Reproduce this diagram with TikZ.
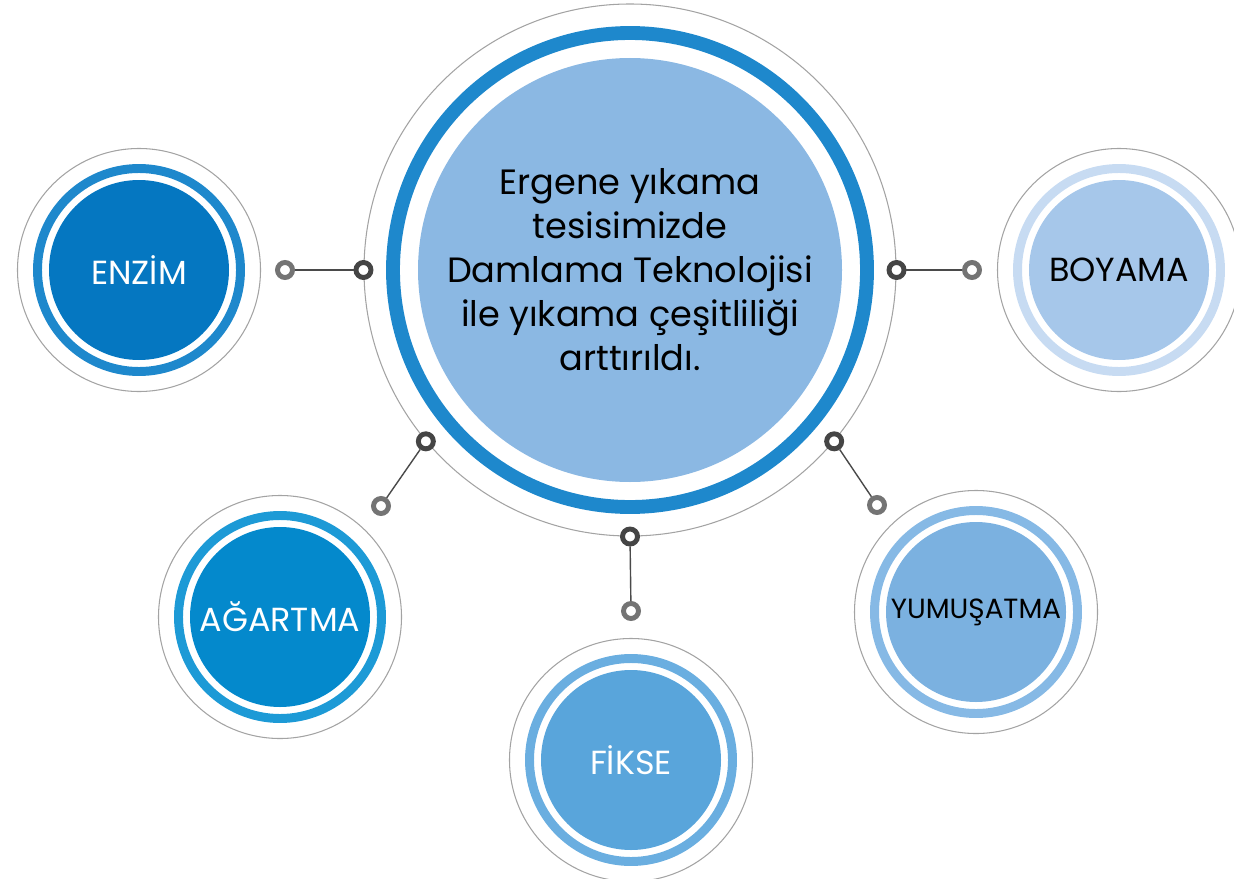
\documentclass[tikz,border=0pt]{standalone}
\usepackage{fontspec}
\setmainfont{Poppins}
\usepackage{xcolor}

\definecolor{rimgray}{HTML}{A3A3A3}
\definecolor{knobdark}{HTML}{454545}
\definecolor{knoblight}{HTML}{747474}
\definecolor{linkgray}{HTML}{4A4A4A}
\definecolor{hubfill}{HTML}{8BB8E3}
\definecolor{hubring}{HTML}{1E88CC}
\definecolor{enzimfill}{HTML}{0577C1}
\definecolor{enzimring}{HTML}{1E88CC}
\definecolor{agartmafill}{HTML}{0489CC}
\definecolor{agartmaring}{HTML}{1D9AD6}
\definecolor{fiksefill}{HTML}{59A5DB}
\definecolor{fikservring}{HTML}{6AAEE0}
\definecolor{yumusatmafill}{HTML}{7BB1E0}
\definecolor{yumusatmaring}{HTML}{86B9E5}
\definecolor{boyamafill}{HTML}{A6C7EA}
\definecolor{boyamaring}{HTML}{C7DBF2}

\tikzset{
  rim/.style={circle, draw=rimgray, line width=0.6pt, inner sep=0pt, minimum size=4.86cm},
  band/.style={circle, draw=#1, line width=5.1pt, inner sep=0pt, minimum size=4.06cm},
  disc/.style={circle, fill=#1, inner sep=0pt, minimum size=3.6cm, font=\fontsize{19}{22}\selectfont},
  knob/.style={circle, draw=#1, fill=white, line width=2.8pt, inner sep=0pt, minimum size=0.3cm},
  link/.style={draw=linkgray, line width=0.8pt},
}

\begin{document}
\begin{tikzpicture}
  \clip (0,0) rectangle (24.68,-17.58);
  % centre
  \node[rim, minimum size=10.64cm] (hubO) at (12.6,-5.4) {};
  \node[band=hubring, line width=7.9pt, minimum size=9.48cm] at (hubO) {};
  \node[disc=hubfill, minimum size=8.48cm, align=center, font=\fontsize{20}{25}\selectfont] (hub) at (hubO)
    {Ergene yıkama\\ tesisimizde\\ Damlama Teknolojisi\\ ile yıkama çeşitliliği\\ arttırıldı.};

  % outer bubbles
  \node[rim] (enzimO) at (2.78,-5.4) {};
  \node[band=enzimring] at (enzimO) {};
  \node[disc=enzimfill, text=white] (enzim) at (enzimO) {ENZİM};

  \node[rim] (boyamaO) at (22.38,-5.4) {};
  \node[band=boyamaring] at (boyamaO) {};
  \node[disc=boyamafill] (boyama) at (boyamaO) {BOYAMA};

  \node[rim] (agartmaO) at (5.6,-12.34) {};
  \node[band=agartmaring] at (agartmaO) {};
  \node[disc=agartmafill, text=white] (agartma) at (agartmaO) {AĞARTMA};

  \node[rim] (fikseO) at (12.62,-15.2) {};
  \node[band=fikservring] at (fikseO) {};
  \node[disc=fiksefill, text=white] (fikse) at (fikseO) {FİKSE};

  \node[rim] (yumusatmaO) at (19.52,-12.24) {};
  \node[band=yumusatmaring] at (yumusatmaO) {};
  \node[disc=yumusatmafill, font=\fontsize{15.8}{18}\selectfont] (yumusatma) at (yumusatmaO) {YUMUŞATMA};

  % connectors
  \node[knob=knobdark] (hubW) at (hubO.180) {};
  \node[knob=knobdark] (hubE) at (hubO.0) {};
  \node[knob=knobdark] (hubSW) at (hubO.220) {};
  \node[knob=knobdark] (hubS) at (hubO.270) {};
  \node[knob=knobdark] (hubSE) at (hubO.320) {};
  \node[knob=knoblight] (enzimK) at (5.7,-5.4) {};
  \node[knob=knoblight] (boyamaK) at (19.44,-5.4) {};
  \node[knob=knoblight] (agartmaK) at (7.62,-10.12) {};
  \node[knob=knoblight] (fikseK) at (12.62,-12.22) {};
  \node[knob=knoblight] (yumusatmaK) at (17.54,-10.1) {};
  \draw[link] (enzimK) -- (hubW);
  \draw[link] (hubE) -- (boyamaK);
  \draw[link] (hubSW) -- (agartmaK);
  \draw[link] (hubS) -- (fikseK);
  \draw[link] (hubSE) -- (yumusatmaK);
\end{tikzpicture}
\end{document}
